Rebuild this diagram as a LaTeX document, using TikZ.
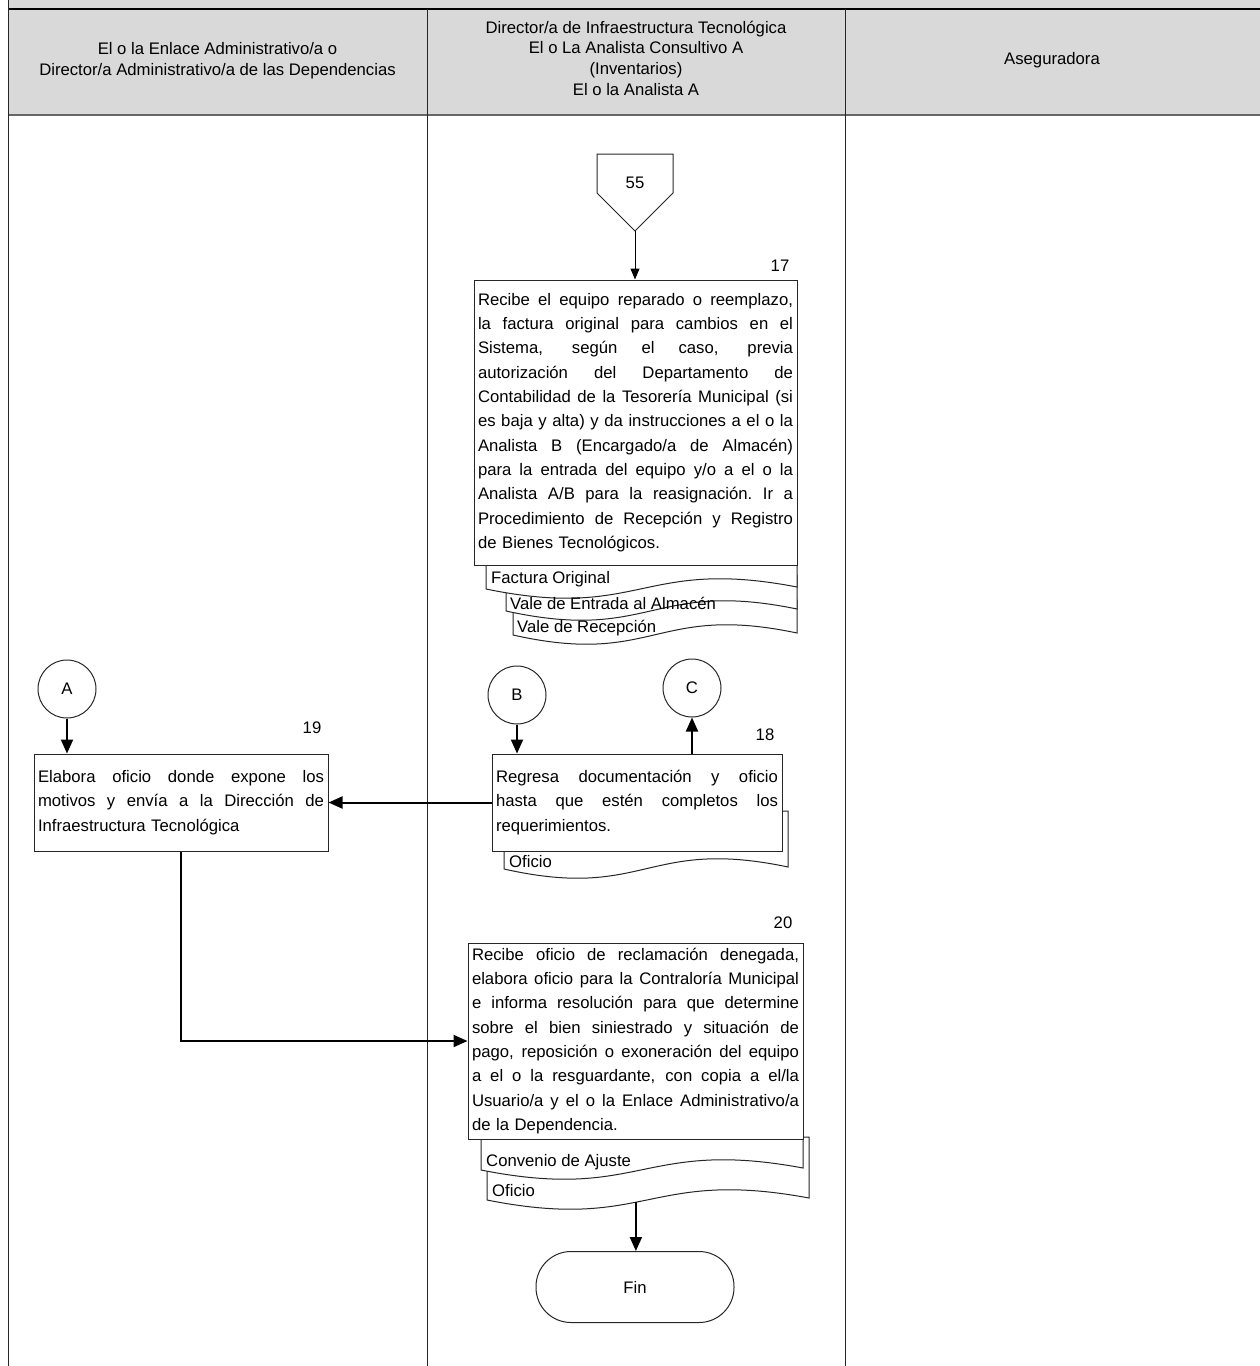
\documentclass[tikz,border=0pt]{standalone}
\usepackage{fontspec}
\setmainfont{Liberation Sans}
\usetikzlibrary{arrows.meta,positioning}
\definecolor{headgray}{HTML}{D9D9D9}
\newcommand{\jl}[1]{\leavevmode\hbox to \hsize{\spaceskip=0.278em plus 1fil\xspaceskip=\spaceskip #1}}
\begin{document}
\begin{tikzpicture}[x=1pt,y=-1pt,
    font=\fontsize{16.7}{24.3}\selectfont,
    stepbox/.style={draw=black!85,fill=white,line width=1pt,inner xsep=4pt,inner ysep=0pt,align=left},
    conn/.style={circle,draw=black!85,fill=white,line width=1pt,minimum size=58pt,inner sep=0pt},
    endbox/.style={draw=black!85,fill=white,line width=1pt,rounded corners=35pt,minimum width=198pt,minimum height=71pt},
    docline/.style={draw=black!85,fill=white,line width=1pt},
    doclabel/.style={anchor=base west,inner sep=0pt},
    stepnum/.style={inner sep=0pt},
    lanehead/.style={align=center,font=\fontsize{16.7}{20.7}\selectfont},
    laneline/.style={line width=1pt,black!85},
    flow/.style={line width=2pt,-{Triangle[length=14pt,width=12pt]}},
    thinflow/.style={line width=1pt,-{Triangle[length=11pt,width=9pt]}}]
  \useasboundingbox (0,0) rectangle (1260,1366);
  \newcommand{\docsheet}[5]{%
    \draw[docline] (#1,#2) -- (#1,#4)
      .. controls ({(#1+#3)/2},{#4+32}) and ({(#1+#3)/2},{#4-32}) .. (#3,{#4-2})
      coordinate[pos=0.45] (#5) -- (#3,#2) -- cycle;}

  % header and lanes
  \fill[headgray] (8,0) rectangle (1260,115);
  \draw[line width=1.5pt] (8,9) -- (1260,9);
  \draw[line width=1.5pt,black!60] (8,115) -- (1260,115);
  \draw[laneline] (8,0) -- (8,1366);
  \foreach \x in {427,845}
    \draw[laneline] (\x,9) -- (\x,1366);
  \node[lanehead] (h1) at (217.5,61) {El o la Enlace Administrativo/a o\\Director/a Administrativo/a de las Dependencias};
  \node[lanehead] (h2) at (636,58) {Director/a de Infraestructura Tecnológica\\El o La Analista Consultivo A\\(Inventarios)\\El o la Analista A};
  \node[lanehead] (h3) at (1052,60) {Aseguradora};

  % documents
  \docsheet{513}{600}{797}{635}{d3}
  \docsheet{506}{575}{797}{611}{d2}
  \docsheet{486}{565}{797}{589}{d1}
  \docsheet{504}{811}{788}{869}{d4}
  \docsheet{487}{1137}{809}{1200}{d6}
  \docsheet{481}{1139}{803}{1170}{d5}
  \node[doclabel] (t1) at (491,583) {Factura Original};
  \node[doclabel] (t2) at (510,609) {Vale de Entrada al Almacén};
  \node[doclabel] (t3) at (517,632) {Vale de Recepción};
  \node[doclabel] (t4) at (509,867) {Oficio};
  \node[doclabel] (t5) at (486,1166) {Convenio de Ajuste};
  \node[doclabel] (t6) at (492,1196) {Oficio};

  % off-page connector
  \node[stepnum] (p55) at (635,183) {55};
  \draw[line width=1pt,black!85] (597,154) -- (673,154) -- (673,193) -- (635,231) coordinate (p55tip) -- (597,193) -- cycle;

  % steps
  \node[stepbox,text width=315pt,minimum height=285pt] (b17) at (635.5,422.5) {%
    \jl{Recibe el equipo reparado o reemplazo,}\\
    \jl{la factura original para cambios en el}\\
    \jl{Sistema, según el caso, previa}\\
    \jl{autorización del Departamento de}\\
    \jl{Contabilidad de la Tesorería Municipal (si}\\
    \jl{es baja y alta) y da instrucciones a el o la}\\
    \jl{Analista B (Encargado/a de Almacén)}\\
    \jl{para la entrada del equipo y/o a el o la}\\
    \jl{Analista A/B para la reasignación. Ir a}\\
    \jl{Procedimiento de Recepción y Registro}\\
    de Bienes Tecnológicos.};
  \node[stepnum] (n17) at (780,266) {17};

  \node[stepbox,text width=286pt,minimum height=97pt] (b19) at (181,802.5) {%
    \jl{Elabora oficio donde expone los}\\
    \jl{motivos y envía a la Dirección de}\\
    Infraestructura Tecnológica};
  \node[stepnum] (n19) at (312,728) {19};

  \node[stepbox,text width=282pt,minimum height=97pt] (b18) at (637,802.5) {%
    \jl{Regresa documentación y oficio}\\
    \jl{hasta que estén completos los}\\
    requerimientos.};
  \node[stepnum] (n18) at (765,735) {18};

  \node[stepbox,text width=327pt,minimum height=196pt] (b20) at (635.5,1041) {%
    \jl{Recibe oficio de reclamación denegada,}\\
    \jl{elabora oficio para la Contraloría Municipal}\\
    \jl{e informa resolución para que determine}\\
    \jl{sobre el bien siniestrado y situación de}\\
    \jl{pago, reposición o exoneración del equipo}\\
    \jl{a el o la resguardante, con copia a el/la}\\
    \jl{Usuario/a y el o la Enlace Administrativo/a}\\
    de la Dependencia.};
  \node[stepnum] (n20) at (783,923) {20};

  \node[conn] (ca) at (67,689) {A};
  \node[conn] (cb) at (517,695) {B};
  \node[conn] (cc) at (692,688) {C};
  \node[endbox] (fin) at (635,1287) {Fin};

  % connectors
  \draw[thinflow] (p55tip) -- (p55tip |- b17.north);
  \draw[flow] (ca) -- (ca |- b19.north);
  \draw[flow] (cb) -- (cb |- b18.north);
  \draw[flow] (cc |- b18.north) -- (cc);
  \draw[flow] (b18.west) -- (b19.east);
  \draw[flow] (b19.south) |- (b20.west);
  \draw[flow] (d6) -- (d6 |- fin.north);
\end{tikzpicture}
\end{document}
